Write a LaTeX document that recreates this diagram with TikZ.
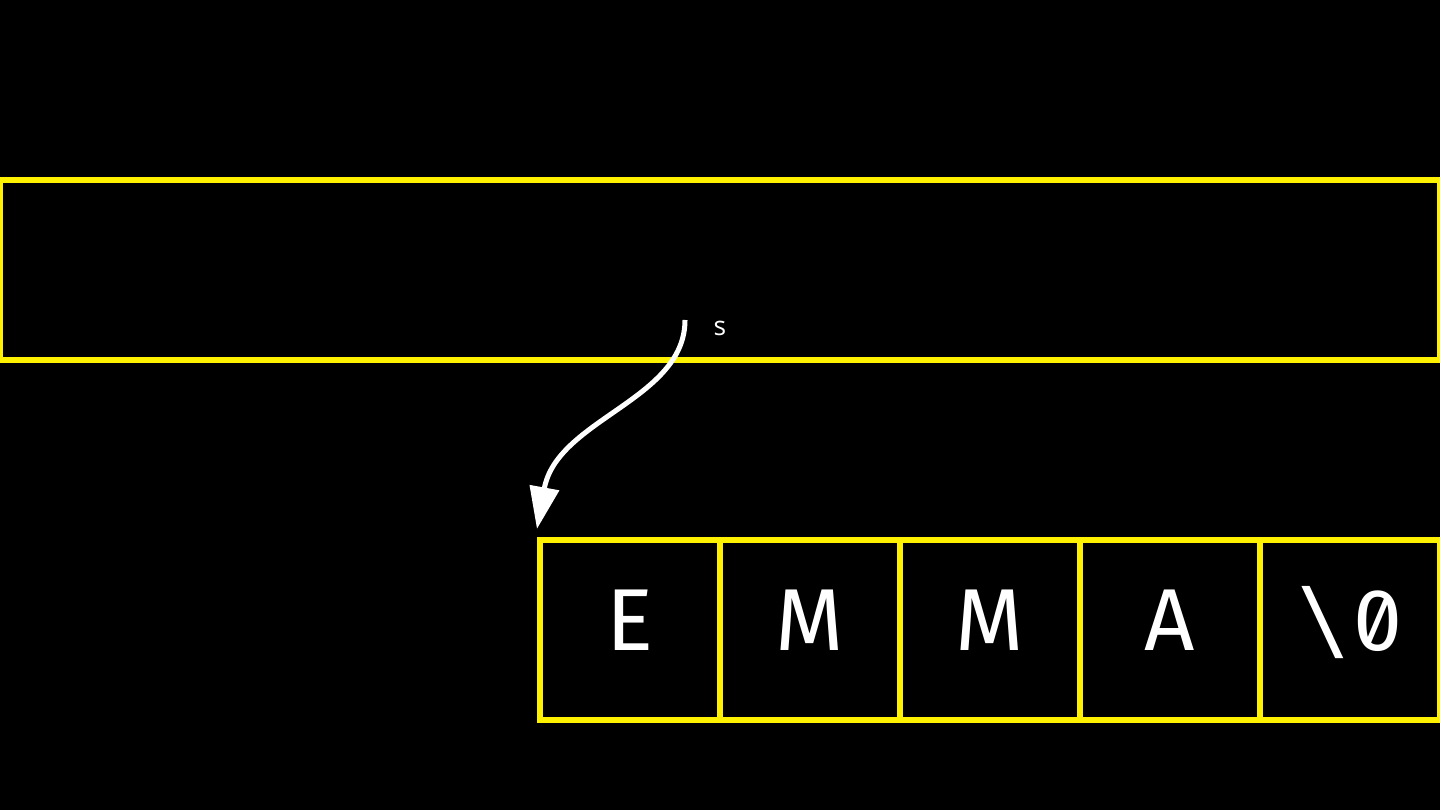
\documentclass[tikz,border=0pt]{standalone}
\usepackage{fontspec}
\setmainfont{Open Sans}
\newfontfamily\cellfont[Numbers=SlashedZero]{Fira Sans}
\newfontfamily\slashfont{DejaVu Sans Mono}
\usetikzlibrary{calc}
\usetikzlibrary{arrows.meta}
\tikzstyle{membox}=[draw=yellow,line width=0.06cm,inner sep=0pt]
\tikzstyle{cell}=[membox,minimum width=1.8cm,minimum height=1.8cm,text=white,
  font=\cellfont\fontsize{25}{30}\selectfont,text height=0.6cm,text depth=0.2cm]
\tikzstyle{pointer}=[white,line width=0.05cm,-{Triangle[width=0.29cm,length=0.42cm]}]
\newcommand{\nulchar}{{\slashfont\fontsize{25}{30}\selectfont\textbackslash}\kern1pt 0}

\begin{document}
\begin{tikzpicture}[x=0.01cm,y=-0.01cm]
  \fill[black] (0,0) rectangle (1440,810);
  \useasboundingbox (0,0) rectangle (1440,810);
  % stack frame
  \node[membox,minimum width=14.4cm,minimum height=1.8cm] (frame) at (720,270) {};
  % string in memory
  \foreach \ch [count=\i] in {E,M,M,A,\nulchar} {
    \node[cell] (c\i) at (450+180*\i,630) {\ch};
  }
  \coordinate (s) at (685,320);
  \node[white,anchor=base,font=\fontsize{7.5}{9}\selectfont] (slabel) at (720,336) {s};
  \draw[pointer] (s) .. controls +(0,80) and +(20,-110) .. ($(c1.north west)+(0,-8)$);
\end{tikzpicture}
\end{document}
